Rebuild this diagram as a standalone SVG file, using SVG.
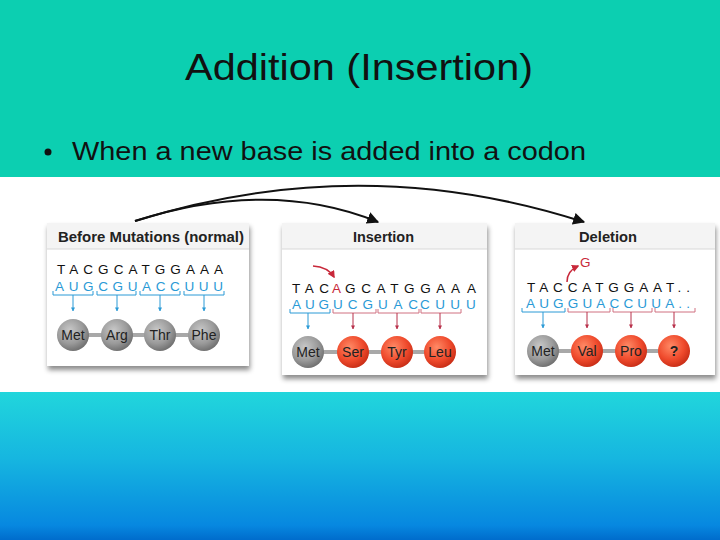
<svg xmlns="http://www.w3.org/2000/svg" width="720" height="540" viewBox="0 0 720 540">
<defs>
<linearGradient id="bot" x1="0" y1="0" x2="0" y2="1">
<stop offset="0" stop-color="#21d6dc"/>
<stop offset="0.45" stop-color="#16b6e0"/>
<stop offset="0.9" stop-color="#0788e0"/>
<stop offset="1" stop-color="#006ccc"/>
</linearGradient>
<radialGradient id="gray" cx="0.4" cy="0.35" r="0.7">
<stop offset="0" stop-color="#c8c8c8"/>
<stop offset="0.6" stop-color="#9a9a9a"/>
<stop offset="1" stop-color="#6a6a6a"/>
</radialGradient>
<radialGradient id="red" cx="0.4" cy="0.35" r="0.7">
<stop offset="0" stop-color="#ff8a66"/>
<stop offset="0.6" stop-color="#ef4a2c"/>
<stop offset="1" stop-color="#c42a14"/>
</radialGradient>
<filter id="sh" x="-10%" y="-10%" width="120%" height="125%">
<feDropShadow dx="1" dy="4" stdDeviation="2.5" flood-color="#000" flood-opacity="0.45"/>
</filter>
<marker id="ah" viewBox="0 0 10 10" refX="9" refY="5" markerWidth="6" markerHeight="6" orient="auto">
<path d="M0,0 L10,5 L0,10 z" fill="#111"/>
</marker>
<marker id="rh" viewBox="0 0 10 10" refX="8" refY="5" markerWidth="5" markerHeight="5" orient="auto">
<path d="M0,0 L10,5 L0,10 z" fill="#c8283a"/>
</marker>
<marker id="bd" viewBox="0 0 10 10" refX="9" refY="5" markerWidth="4" markerHeight="4" orient="auto">
<path d="M0,0 L10,5 L0,10 z" fill="#2a9ad6"/>
</marker>
<marker id="rd" viewBox="0 0 10 10" refX="9" refY="5" markerWidth="4" markerHeight="4" orient="auto">
<path d="M0,0 L10,5 L0,10 z" fill="#b8304a"/>
</marker>
</defs>
<style>
.title{font-family:"Liberation Sans",Arial,sans-serif;font-size:36px;fill:#111}
.bul{font-family:"Liberation Sans",Arial,sans-serif;font-size:25px;fill:#111}
.panel{fill:#fff;filter:url(#sh)}
.hdr{fill:#f4f4f4}
.hl{stroke:#d8d8d8;stroke-width:1}
.ht{font-family:"Liberation Sans",Arial,sans-serif;font-size:14px;font-weight:bold;fill:#222}
.dna{font-family:"Liberation Sans",Arial,sans-serif;font-size:13.5px;fill:#111}
.rna{font-family:"Liberation Sans",Arial,sans-serif;font-size:13.5px;fill:#2a9ad6}
.rr{fill:#c8283a}
.bb{fill:none;stroke:#2a9ad6;stroke-width:1}
.rb{fill:none;stroke:#d07080;stroke-width:1}
.ba{stroke:#2a9ad6;stroke-width:1;marker-end:url(#bd)}
.ra{stroke:#b8304a;stroke-width:1;marker-end:url(#rd)}
.bar{stroke:#a8a8a8;stroke-width:4}
.aa{font-family:"Liberation Sans",Arial,sans-serif;font-size:14px;fill:#222;text-anchor:middle}
.conn{fill:none;stroke:#111;stroke-width:2;marker-end:url(#ah)}
</style>
<rect x="0" y="0" width="720" height="177" fill="#0ccfb1"/>
<rect x="0" y="177" width="720" height="215" fill="#fff"/>
<rect x="0" y="392" width="720" height="148" fill="url(#bot)"/>
<text class="title" x="185" y="80" textLength="348" lengthAdjust="spacingAndGlyphs">Addition (Insertion)</text>
<circle cx="48" cy="152" r="3.5" fill="#111"/>
<text class="bul" x="72" y="160" textLength="514" lengthAdjust="spacingAndGlyphs">When a new base is added into a codon</text>

<g id="before">
<rect class="panel" x="47" y="223" width="202" height="143"/>
<rect class="hdr" x="47" y="223" width="202" height="26"/>
<line class="hl" x1="47" y1="249" x2="249" y2="249"/>
<text class="ht" x="58" y="242" textLength="186" lengthAdjust="spacingAndGlyphs">Before Mutations (normal)</text>
<text class="dna" x="57" y="274" textLength="166" lengthAdjust="spacing">TACGCATGGAAA</text>
<text class="rna" x="55" y="291" textLength="168" lengthAdjust="spacing">AUGCGUACCUUU</text>
<path class="bb" d="M53,291 V295 H93 V291 M97,291 V295 H136 V291 M140,291 V295 H180 V291 M184,291 V295 H224 V291"/>
<line class="ba" x1="73" y1="295" x2="73" y2="311"/>
<line class="ba" x1="117" y1="295" x2="117" y2="311"/>
<line class="ba" x1="160" y1="295" x2="160" y2="311"/>
<line class="ba" x1="204" y1="295" x2="204" y2="311"/>
<line class="bar" x1="73" y1="335" x2="204" y2="335"/>
<circle cx="73" cy="335" r="16" fill="url(#gray)"/>
<circle cx="117" cy="335" r="16" fill="url(#gray)"/>
<circle cx="160" cy="335" r="16" fill="url(#gray)"/>
<circle cx="204" cy="335" r="16" fill="url(#gray)"/>
<text class="aa" x="73" y="340">Met</text>
<text class="aa" x="117" y="340">Arg</text>
<text class="aa" x="160" y="340">Thr</text>
<text class="aa" x="204" y="340">Phe</text>
</g>

<g id="insertion">
<rect class="panel" x="282" y="223" width="205" height="152"/>
<rect class="hdr" x="282" y="223" width="205" height="26"/>
<line class="hl" x1="282" y1="249" x2="487" y2="249"/>
<text class="ht" x="353" y="242" textLength="61" lengthAdjust="spacingAndGlyphs">Insertion</text>
<path d="M313,266 Q328,267 334,277" fill="none" stroke="#c8283a" stroke-width="1.5" marker-end="url(#rh)"/>
<text class="dna" x="292" y="293" textLength="37" lengthAdjust="spacing">TAC</text>
<text class="dna rr" x="332" y="293">A</text>
<text class="dna" x="345" y="293" textLength="115" lengthAdjust="spacing">GCATGGAA</text>
<text class="dna" x="467" y="293">A</text>
<text class="rna" x="292" y="309" textLength="37" lengthAdjust="spacing">AUG</text>
<text class="rna" x="333" y="309" textLength="40" lengthAdjust="spacing">UCG</text>
<text class="rna" x="378" y="309" textLength="40" lengthAdjust="spacing">UAC</text>
<text class="rna" x="420" y="309" textLength="40" lengthAdjust="spacing">CUU</text>
<text class="rna" x="466" y="309">U</text>
<path class="bb" d="M290,309 V313 H330 V309"/>
<path class="rb" d="M333,309 V313 H376 V309 M378,309 V313 H419 V309 M421,309 V313 H461 V309"/>
<line class="ba" x1="308" y1="313" x2="308" y2="329"/>
<line class="ra" x1="353" y1="313" x2="353" y2="329"/>
<line class="ra" x1="397" y1="313" x2="397" y2="329"/>
<line class="ra" x1="440" y1="313" x2="440" y2="329"/>
<line class="bar" x1="308" y1="352" x2="440" y2="352"/>
<circle cx="308" cy="352" r="16" fill="url(#gray)"/>
<circle cx="353" cy="352" r="16" fill="url(#red)"/>
<circle cx="397" cy="352" r="16" fill="url(#red)"/>
<circle cx="440" cy="352" r="16" fill="url(#red)"/>
<text class="aa" x="308" y="357">Met</text>
<text class="aa" x="353" y="357">Ser</text>
<text class="aa" x="397" y="357">Tyr</text>
<text class="aa" x="440" y="357">Leu</text>
</g>

<g id="deletion">
<rect class="panel" x="515" y="223" width="200" height="152"/>
<rect class="hdr" x="515" y="223" width="200" height="26"/>
<line class="hl" x1="515" y1="249" x2="715" y2="249"/>
<text class="ht" x="579" y="242" textLength="58" lengthAdjust="spacingAndGlyphs">Deletion</text>
<text class="dna rr" x="580" y="267" font-size="14">G</text>
<path d="M567,282 Q567,271 578,266" fill="none" stroke="#c8283a" stroke-width="1.5" marker-end="url(#rh)"/>
<text class="dna" x="527" y="292" textLength="163" lengthAdjust="spacing">TACCATGGAAT..</text>
<text class="rna" x="526" y="308" textLength="164" lengthAdjust="spacing">AUGGUACCUUA..</text>
<path class="bb" d="M522,308 V312 H565 V308"/>
<path class="rb" d="M568,308 V312 H610 V308 M613,308 V312 H652 V308 M655,308 V312 H695 V308"/>
<line class="ba" x1="543" y1="312" x2="543" y2="328"/>
<line class="ra" x1="587" y1="312" x2="587" y2="328"/>
<line class="ra" x1="631" y1="312" x2="631" y2="328"/>
<line class="ra" x1="674" y1="312" x2="674" y2="328"/>
<line class="bar" x1="543" y1="351" x2="674" y2="351"/>
<circle cx="543" cy="351" r="16" fill="url(#gray)"/>
<circle cx="587" cy="351" r="16" fill="url(#red)"/>
<circle cx="631" cy="351" r="16" fill="url(#red)"/>
<circle cx="674" cy="351" r="16" fill="url(#red)"/>
<text class="aa" x="543" y="356">Met</text>
<text class="aa" x="587" y="356">Val</text>
<text class="aa" x="631" y="356">Pro</text>
<text class="aa" x="674" y="356" font-weight="bold">?</text>
</g>

<g id="connectors">
<path class="conn" d="M135,221 Q270,178 378,222"/>
<path class="conn" d="M135,221 Q360,150 584,222"/>
</g>
</svg>
